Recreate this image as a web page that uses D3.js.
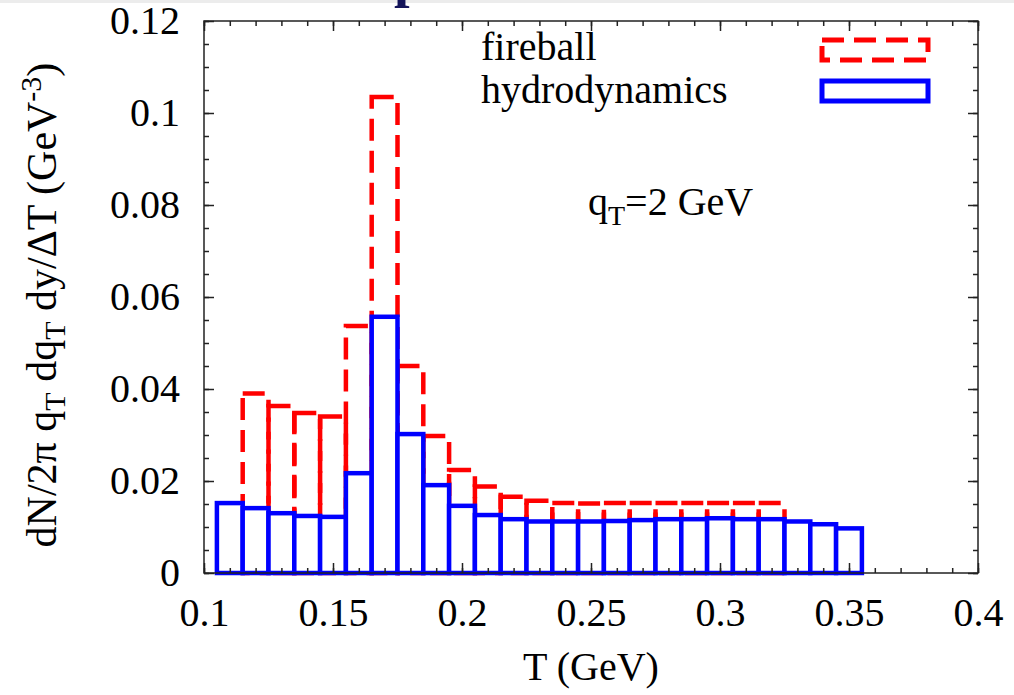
<!DOCTYPE html>
<html><head><meta charset="utf-8">
<script src="https://cdn.jsdelivr.net/npm/d3@7"></script>
<style>
html,body{margin:0;padding:0;background:#fff;}
svg{display:block;font-family:"Liberation Serif","Times New Roman",serif;}
</style></head><body>
<svg id="chart" width="1014" height="695"></svg>
<script>
// Temperature bins (bin centres, GeV); each bin is 0.01 GeV wide
const hydroT = [0.11, 0.12, 0.13, 0.14, 0.15, 0.16, 0.17, 0.18, 0.19, 0.20,
                0.21, 0.22, 0.23, 0.24, 0.25, 0.26, 0.27, 0.28, 0.29, 0.30,
                0.31, 0.32, 0.33, 0.34, 0.35];
const hydroVal = [0.0152, 0.0141, 0.0130, 0.0124, 0.0122, 0.0217, 0.0557, 0.0302, 0.0191, 0.0146,
                  0.0126, 0.0117, 0.0112, 0.0112, 0.0112, 0.0113, 0.0115, 0.0117, 0.0117, 0.0119,
                  0.0117, 0.0117, 0.0112, 0.0106, 0.0097];
const fireT = [0.12, 0.13, 0.14, 0.15, 0.16, 0.17, 0.18, 0.19, 0.20,
               0.21, 0.22, 0.23, 0.24, 0.25, 0.26, 0.27, 0.28, 0.29, 0.30,
               0.31, 0.32];
const fireVal = [0.0390, 0.0363, 0.0348, 0.0340, 0.0537, 0.1035, 0.0450, 0.0298, 0.0224,
                 0.0188, 0.0166, 0.0157, 0.0152, 0.0151, 0.0152, 0.0152, 0.0152, 0.0152, 0.0152,
                 0.0152, 0.0152];
const binWidth = 0.01;

const xTickLabels = ["0.1", "0.15", "0.2", "0.25", "0.3", "0.35", "0.4"];
const yTickLabels = ["0", "0.02", "0.04", "0.06", "0.08", "0.1", "0.12"];
const seriesNames = ["fireball", "hydrodynamics"];

const svg = d3.select("#chart");
const FS = 40;
const plotL = 204, plotR = 978, plotT = 21, plotB = 573;

const x = d3.scaleLinear().domain([0.1, 0.4]).range([plotL, plotR]);
const y = d3.scaleLinear().domain([0, 0.12]).range([plotB, plotT]);

// thin grey strip and slide-title descender above the plot
svg.append("rect").attr("x", 0).attr("y", 0).attr("width", 1014).attr("height", 3).attr("fill", "#ececec");
svg.append("text").attr("x", 394).attr("y", -4).attr("font-size", 56).attr("font-weight", "bold")
  .attr("fill", "#14145a").text("p");

// fireball histogram: dashed red boxes
svg.append("g").selectAll("rect").data(fireT).join("rect")
  .attr("x", d => x(d - binWidth / 2))
  .attr("width", d => x(d + binWidth / 2) - x(d - binWidth / 2))
  .attr("y", (d, i) => y(fireVal[i]))
  .attr("height", (d, i) => y(0) - y(fireVal[i]))
  .attr("fill", "none").attr("stroke", "#ff0000").attr("stroke-width", 4.5)
  .attr("stroke-dasharray", "22 10");

// hydrodynamics histogram: solid blue boxes with white fill
svg.append("g").selectAll("rect").data(hydroT).join("rect")
  .attr("x", d => x(d - binWidth / 2))
  .attr("width", d => x(d + binWidth / 2) - x(d - binWidth / 2))
  .attr("y", (d, i) => y(hydroVal[i]))
  .attr("height", (d, i) => y(0) - y(hydroVal[i]))
  .attr("fill", "#ffffff").attr("stroke", "#0000ff").attr("stroke-width", 4.5);

// axes: inward ticks on all four sides
const xMajor = xTickLabels.map(Number);
const yMajor = yTickLabels.map(Number);
const xMinor = d3.range(0, 31).map(i => +(0.1 + i * 0.01).toFixed(2));
const yMinor = d3.range(0, 25).map(i => +(i * 0.005).toFixed(3));

function styleAxis(g) {
  g.select(".domain").remove();
  g.selectAll("line").attr("stroke", "#222").attr("stroke-width", 1.5);
  g.selectAll("text").attr("font-size", FS).attr("fill", "#000")
    .attr("font-family", "Liberation Serif, Times New Roman, serif");
}

svg.append("g").attr("transform", `translate(0,${plotB})`)
  .call(d3.axisBottom(x).tickValues(xMajor).tickFormat((d, i) => xTickLabels[i])
    .tickSize(-10).tickSizeOuter(0).tickPadding(25)).call(styleAxis);
svg.append("g").attr("transform", `translate(0,${plotB})`)
  .call(d3.axisBottom(x).tickValues(xMinor).tickFormat("").tickSize(-5).tickSizeOuter(0)).call(styleAxis);
svg.append("g").attr("transform", `translate(0,${plotT})`)
  .call(d3.axisTop(x).tickValues(xMajor).tickFormat("").tickSize(-10).tickSizeOuter(0)).call(styleAxis);
svg.append("g").attr("transform", `translate(0,${plotT})`)
  .call(d3.axisTop(x).tickValues(xMinor).tickFormat("").tickSize(-5).tickSizeOuter(0)).call(styleAxis);

svg.append("g").attr("transform", `translate(${plotL},0)`)
  .call(d3.axisLeft(y).tickValues(yMajor).tickFormat((d, i) => yTickLabels[i])
    .tickSize(-10).tickSizeOuter(0).tickPadding(24)).call(styleAxis);
svg.append("g").attr("transform", `translate(${plotL},0)`)
  .call(d3.axisLeft(y).tickValues(yMinor).tickFormat("").tickSize(-5).tickSizeOuter(0)).call(styleAxis);
svg.append("g").attr("transform", `translate(${plotR},0)`)
  .call(d3.axisRight(y).tickValues(yMajor).tickFormat("").tickSize(-10).tickSizeOuter(0)).call(styleAxis);
svg.append("g").attr("transform", `translate(${plotR},0)`)
  .call(d3.axisRight(y).tickValues(yMinor).tickFormat("").tickSize(-5).tickSizeOuter(0)).call(styleAxis);

// plot frame
svg.append("rect").attr("x", plotL).attr("y", plotT).attr("width", plotR - plotL).attr("height", plotB - plotT)
  .attr("fill", "none").attr("stroke", "#222").attr("stroke-width", 1.5);

// axis titles
svg.append("text").attr("x", (plotL + plotR) / 2).attr("y", 680).attr("text-anchor", "middle")
  .attr("font-size", FS).text("T (GeV)");

const yt = svg.append("text").attr("transform", "translate(56,305) rotate(-90)")
  .attr("text-anchor", "middle").attr("font-size", 42);
yt.append("tspan").text("dN/2π q");
yt.append("tspan").attr("font-size", 30).attr("dy", 9).text("T");
yt.append("tspan").attr("dy", -9).text(" dq");
yt.append("tspan").attr("font-size", 30).attr("dy", 9).text("T");
yt.append("tspan").attr("dy", -9).text(" dy/ΔT (GeV");
yt.append("tspan").attr("font-size", 30).attr("dy", -15).text("-3");
yt.append("tspan").attr("dy", 15).text(")");

// annotation
const qt = svg.append("text").attr("x", 588).attr("y", 215).attr("font-size", 40);
qt.append("tspan").text("q");
qt.append("tspan").attr("font-size", 28).attr("dy", 10).text("T");
qt.append("tspan").attr("dy", -10).text("=2 GeV");

// legend
const leg = svg.append("g");
leg.append("text").attr("x", 481).attr("y", 60).attr("font-size", FS).text(seriesNames[0]);
leg.append("text").attr("x", 481).attr("y", 103).attr("font-size", FS).text(seriesNames[1]);
leg.append("rect").attr("x", 822).attr("y", 40).attr("width", 106).attr("height", 20)
  .attr("fill", "none").attr("stroke", "#ff0000").attr("stroke-width", 5).attr("stroke-dasharray", "22 10");
leg.append("rect").attr("x", 822).attr("y", 81).attr("width", 106).attr("height", 20)
  .attr("fill", "#fff").attr("stroke", "#0000ff").attr("stroke-width", 5);
</script>
</body></html>
